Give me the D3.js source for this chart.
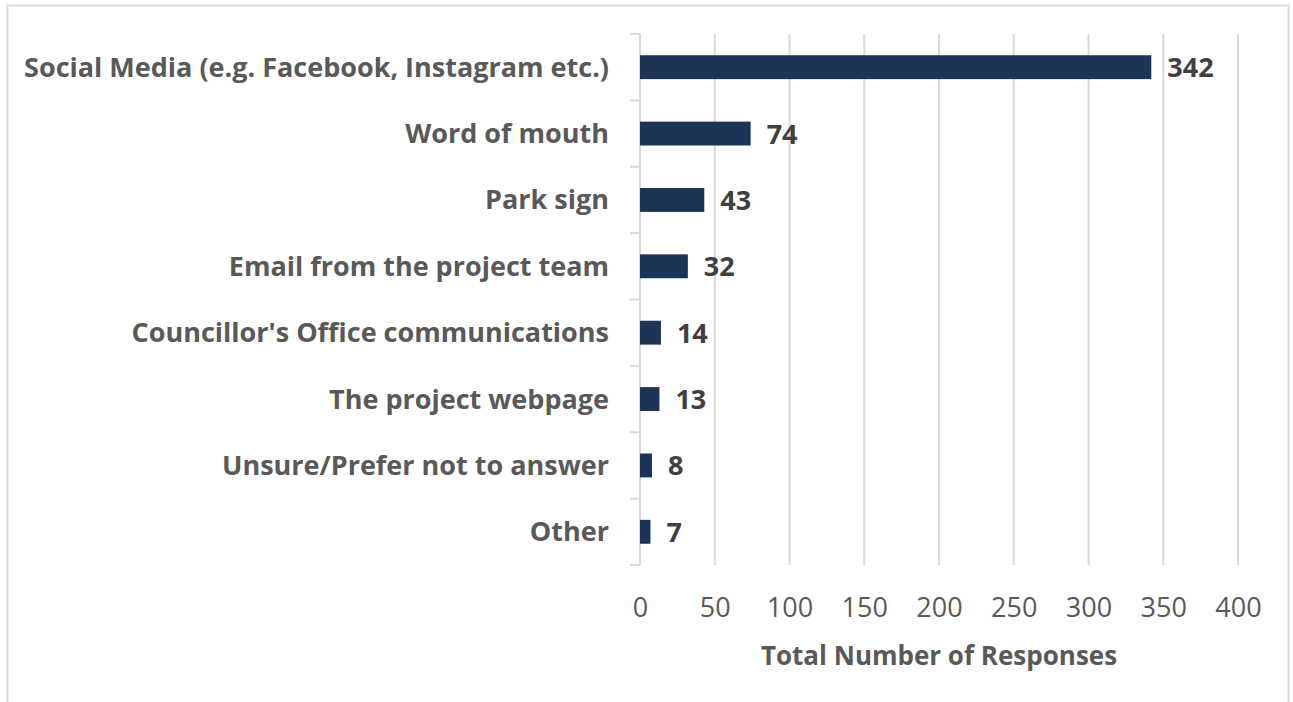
<!DOCTYPE html>
<html>
<head>
<meta charset="utf-8">
<script src="https://cdn.jsdelivr.net/npm/d3@7/dist/d3.min.js"></script>
<style>
  html, body { margin: 0; padding: 0; background: #fff; }
  svg { display: block; }
  text { font-family: "Open Sans", "DejaVu Sans", sans-serif; }
</style>
</head>
<body>
<svg id="chart" width="1293" height="702"></svg>
<script>
const categories = [
  "Social Media (e.g. Facebook, Instagram etc.)",
  "Word of mouth",
  "Park sign",
  "Email from the project team",
  "Councillor's Office communications",
  "The project webpage",
  "Unsure/Prefer not to answer",
  "Other"
];
const values = [342, 74, 43, 32, 14, 13, 8, 7];
const tickValues = [0, 50, 100, 150, 200, 250, 300, 350, 400];
const xAxisTitle = "Total Number of Responses";

const svg = d3.select("#chart");
const W = 1293, H = 702;
const margin = { left: 640, right: 55, top: 34, bottom: 137 };

// outer chart frame
svg.append("rect")
  .attr("x", 7.5).attr("y", 5.5)
  .attr("width", 1281).attr("height", 720)
  .attr("fill", "#fff")
  .attr("stroke", "#d9d9d9").attr("stroke-width", 2);

const x = d3.scaleLinear().domain([0, 400]).range([margin.left, W - margin.right]);
const y = d3.scaleBand().domain(categories).range([margin.top, H - margin.bottom]).paddingInner(0.64).paddingOuter(0.32);

// gridlines
svg.append("g")
  .selectAll("line")
  .data(tickValues.filter(d => d > 0))
  .join("line")
  .attr("x1", d => x(d)).attr("x2", d => x(d))
  .attr("y1", margin.top).attr("y2", H - margin.bottom)
  .attr("stroke", "#d9d9d9").attr("stroke-width", 2);

// y axis line and ticks (between categories)
const yAxis = svg.append("g");
yAxis.append("line")
  .attr("x1", x(0)).attr("x2", x(0))
  .attr("y1", margin.top).attr("y2", H - margin.bottom)
  .attr("stroke", "#d9d9d9").attr("stroke-width", 2);
const boundaries = d3.range(categories.length + 1).map(i => margin.top + i * (H - margin.top - margin.bottom) / categories.length);
yAxis.selectAll("line.tk")
  .data(boundaries)
  .join("line")
  .attr("class", "tk")
  .attr("x1", x(0) - 10).attr("x2", x(0))
  .attr("y1", d => d).attr("y2", d => d)
  .attr("stroke", "#d9d9d9").attr("stroke-width", 2);

// category labels
svg.append("g")
  .selectAll("text")
  .data(categories)
  .join("text")
  .attr("x", x(0) - 31)
  .attr("y", d => y(d) + y.bandwidth() / 2)
  .attr("dy", "0.35em")
  .attr("text-anchor", "end")
  .attr("font-size", 27)
  .attr("font-weight", "bold")
  .attr("fill", "#595959")
  .text(d => d);

// bars
svg.append("g")
  .selectAll("rect")
  .data(values)
  .join("rect")
  .attr("x", x(0))
  .attr("y", (d, i) => y(categories[i]))
  .attr("width", d => x(d) - x(0))
  .attr("height", y.bandwidth())
  .attr("fill", "#1c3458");

// value labels
svg.append("g")
  .selectAll("text")
  .data(values)
  .join("text")
  .attr("x", d => x(d) + 16)
  .attr("y", (d, i) => y(categories[i]) + y.bandwidth() / 2)
  .attr("dy", "0.37em")
  .attr("font-size", 27)
  .attr("font-weight", "bold")
  .attr("fill", "#404040")
  .text(d => d);

// x axis tick labels
const xAxis = d3.axisBottom(x).tickValues(tickValues).tickSize(0).tickPadding(0);
const gx = svg.append("g")
  .attr("transform", `translate(0, ${H - margin.bottom})`)
  .call(xAxis);
gx.select(".domain").remove();
gx.selectAll("text")
  .attr("y", 52)
  .attr("dy", 0)
  .attr("font-size", 27)
  .attr("font-family", "\"Open Sans\", sans-serif")
  .attr("fill", "#595959");

// x axis title
svg.append("text")
  .attr("x", (x(0) + x(400)) / 2)
  .attr("y", 665)
  .attr("text-anchor", "middle")
  .attr("font-size", 26)
  .attr("font-weight", "bold")
  .attr("fill", "#595959")
  .text(xAxisTitle);
</script>
</body>
</html>
